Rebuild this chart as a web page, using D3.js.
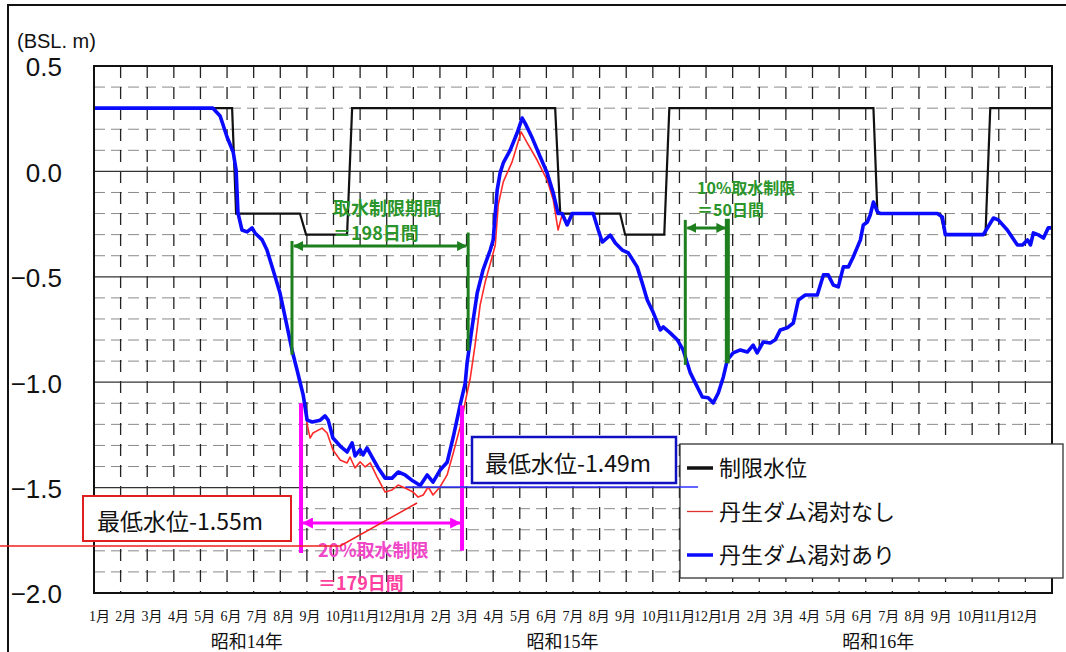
<!DOCTYPE html>
<html>
<head>
<meta charset="utf-8">
<title>丹生ダム 渇水対策 水位</title>
<style>
    body { margin: 0; background: #fff; }
    svg { display: block; font-family: "Noto Sans CJK JP", sans-serif; }
</style>
</head>
<body>
<svg width="1066" height="652"></svg>
<script src="https://d3js.org/d3.v7.min.js"></script>
<script>

    // month index: 0 = start of 1月 昭和14年, 36 = end of 12月 昭和16年
    var monthNames = ["1月","2月","3月","4月","5月","6月","7月","8月","9月","10月","11月","12月"];
    var yearLabels = ["昭和14年", "昭和15年", "昭和16年"];
    var yTicks = [0.5, 0.0, -0.5, -1.0, -1.5, -2.0];

    // 制限水位
    var limitLevel = [
        [0, 0.3], [5.19, 0.3], [5.34, -0.2], [7.74, -0.2], [7.97, -0.3], [9.51, -0.3], [9.7, 0.3],
        [17.33, 0.3], [17.52, -0.2], [19.77, -0.2], [19.96, -0.3], [21.43, -0.3], [21.62, 0.3],
        [29.29, 0.3], [29.44, -0.2], [31.8, -0.2], [31.99, -0.3], [33.5, -0.3], [33.68, 0.3], [36, 0.3]
    ];

    // 丹生ダム渇対あり
    var withDam = [
        [0, 0.3], [4.36, 0.3], [4.47, 0.3], [4.74, 0.263], [5.0, 0.163], [5.23, 0.092], [5.34, 0.007],
        [5.41, -0.197], [5.56, -0.278], [5.75, -0.287], [5.94, -0.268], [6.05, -0.292], [6.32, -0.325],
        [6.5, -0.373], [6.73, -0.468], [6.99, -0.577], [7.26, -0.738], [7.44, -0.847], [7.63, -0.942],
        [7.86, -1.06], [8.01, -1.18], [8.2, -1.189], [8.5, -1.18], [8.68, -1.16], [8.8, -1.18],
        [8.98, -1.265], [9.25, -1.303], [9.51, -1.331], [9.7, -1.288], [9.81, -1.35], [10.0, -1.32],
        [10.11, -1.345], [10.26, -1.312], [10.45, -1.355], [10.68, -1.407], [10.94, -1.455], [11.2, -1.455],
        [11.43, -1.426], [11.69, -1.44], [11.99, -1.469], [12.26, -1.49], [12.52, -1.44], [12.74, -1.474],
        [13.0, -1.418], [13.27, -1.38], [13.5, -1.26], [13.76, -1.108], [13.95, -1.004], [14.02, -0.909],
        [14.21, -0.738], [14.4, -0.577], [14.62, -0.467], [14.89, -0.373], [15.0, -0.325], [15.15, -0.089],
        [15.26, -0.008], [15.38, 0.04], [15.64, 0.101], [15.9, 0.182], [16.09, 0.253], [16.2, 0.229],
        [16.47, 0.158], [16.77, 0.068], [17.03, -0.008], [17.26, -0.103], [17.44, -0.2], [17.59, -0.2],
        [17.78, -0.254], [17.97, -0.2], [18.76, -0.2], [18.95, -0.278], [19.1, -0.335], [19.4, -0.302],
        [19.59, -0.34], [19.85, -0.373], [20.08, -0.387], [20.41, -0.453], [20.6, -0.529], [20.79, -0.61],
        [21.02, -0.671], [21.28, -0.752], [21.39, -0.738], [21.65, -0.766], [21.92, -0.799], [22.14, -0.847],
        [22.41, -0.956], [22.67, -1.022], [22.86, -1.07], [23.08, -1.074], [23.27, -1.098], [23.46, -1.051],
        [23.65, -0.975], [23.8, -0.894], [24.02, -0.861], [24.29, -0.847], [24.55, -0.857], [24.77, -0.824],
        [24.92, -0.861], [25.15, -0.809], [25.41, -0.814], [25.6, -0.799], [25.79, -0.752], [26.05, -0.742],
        [26.28, -0.719], [26.47, -0.61], [26.73, -0.586], [27.18, -0.586], [27.41, -0.491], [27.59, -0.491],
        [27.78, -0.539], [27.97, -0.548], [28.16, -0.453], [28.35, -0.453], [28.53, -0.406], [28.8, -0.325],
        [28.91, -0.254], [29.06, -0.24], [29.17, -0.207], [29.29, -0.145], [29.44, -0.192], [29.55, -0.2],
        [31.69, -0.2], [31.88, -0.216], [31.99, -0.3], [33.42, -0.3], [33.8, -0.221], [33.98, -0.23],
        [34.32, -0.278], [34.7, -0.349], [34.89, -0.349], [35.08, -0.325], [35.19, -0.349], [35.3, -0.292],
        [35.49, -0.301], [35.68, -0.316], [35.86, -0.268], [36.0, -0.268]
    ];

    // 丹生ダム渇対なし (only where it leaves the blue line)
    var withoutDam = [
        [7.86, -1.06], [8.01, -1.2], [8.12, -1.265], [8.23, -1.241], [8.57, -1.218], [8.76, -1.241],
        [8.98, -1.322], [9.25, -1.369], [9.51, -1.383], [9.62, -1.355], [9.81, -1.407], [10.0, -1.378],
        [10.19, -1.402], [10.38, -1.383], [10.64, -1.45], [10.94, -1.521], [11.2, -1.511], [11.43, -1.488],
        [11.69, -1.502], [11.99, -1.521], [12.18, -1.545], [12.37, -1.535], [12.56, -1.497], [12.74, -1.535],
        [13.0, -1.497], [13.27, -1.44], [13.5, -1.336], [13.76, -1.212], [13.95, -1.094], [14.14, -0.98],
        [14.32, -0.824], [14.51, -0.634], [14.7, -0.525], [14.96, -0.406], [15.08, -0.349], [15.19, -0.159],
        [15.38, -0.05], [15.71, 0.045], [16.05, 0.187], [16.28, 0.135], [16.65, 0.054], [17.03, -0.041],
        [17.26, -0.136], [17.44, -0.278], [17.59, -0.207], [17.78, -0.254]
    ];

    // restriction periods: [start, end, left top, right top, left bottom, right bottom, arrow level]
    var period198 = [7.44, 14.06, -0.33, -0.29, -0.87, -0.85, -0.354];
    var period50 = [22.22, 23.8, -0.23, -0.225, -0.918, -0.91, -0.268];
    var period179 = [7.78, 13.83, -1.10, -1.11, -1.81, -1.80, -1.668];

    var svg = d3.select("svg"),
        width = +svg.attr("width"),
        height = +svg.attr("height");

    var x = d3.scaleLinear().domain([0, 36]).range([94, 1052]),
        y = d3.scaleLinear().domain([-2, 0.5]).range([593, 66]),
        labelX = d3.scaleLinear().domain([0, 36]).range([89, 1036]);

    svg.append("rect").attr("width", width).attr("height", height).attr("fill", "#fff");

    // outer frame
    svg.append("rect")
        .attr("x", 8).attr("y", 5).attr("width", 1070).attr("height", 670)
        .attr("fill", "none").attr("stroke", "#111").attr("stroke-width", 2);

    // grid
    var grid = svg.append("g");
    grid.selectAll(".hdash")
        .data(d3.range(-19, 5).filter(function(k) { return k % 5 !== 0; }))
        .enter().append("line")
        .attr("x1", x(0)).attr("x2", x(36))
        .attr("y1", function(k) { return y(k / 10); })
        .attr("y2", function(k) { return y(k / 10); })
        .attr("stroke", "#8a8a8a").attr("stroke-width", 1)
        .attr("stroke-dasharray", "11,6");

    grid.selectAll(".vdash")
        .data(d3.range(1, 36))
        .enter().append("line")
        .attr("x1", function(d) { return x(d); })
        .attr("x2", function(d) { return x(d); })
        .attr("y1", y(0.5)).attr("y2", y(-2))
        .attr("stroke", "#222").attr("stroke-width", 1.3)
        .attr("stroke-dasharray", "12,9");

    grid.selectAll(".hsolid")
        .data(yTicks.slice(1, 5))
        .enter().append("line")
        .attr("x1", x(0)).attr("x2", x(36))
        .attr("y1", function(d) { return y(d); })
        .attr("y2", function(d) { return y(d); })
        .attr("stroke", "#333").attr("stroke-width", 1.3);

    grid.selectAll(".ztick")
        .data(d3.range(2, 36, 3))
        .enter().append("line")
        .attr("x1", function(d) { return x(d); })
        .attr("x2", function(d) { return x(d); })
        .attr("y1", y(0)).attr("y2", y(0) - 5)
        .attr("stroke", "#333").attr("stroke-width", 1.2);

    // series
    var line = d3.line()
        .x(function(d) { return x(d[0]); })
        .y(function(d) { return y(d[1]); });

    svg.append("path").datum(limitLevel)
        .attr("d", line).attr("fill", "none")
        .attr("stroke", "#111").attr("stroke-width", 2.2);

    svg.append("path").datum(withoutDam)
        .attr("d", line).attr("fill", "none")
        .attr("stroke", "#ff2a2a").attr("stroke-width", 1.6)
        .attr("stroke-linejoin", "round");

    svg.append("path").datum(withDam)
        .attr("d", line).attr("fill", "none")
        .attr("stroke", "#0a0aff").attr("stroke-width", 3.6)
        .attr("stroke-linejoin", "round");

    // plot border
    svg.append("rect")
        .attr("x", x(0)).attr("y", y(0.5))
        .attr("width", x(36) - x(0)).attr("height", y(-2) - y(0.5))
        .attr("fill", "none").attr("stroke", "#111").attr("stroke-width", 2);

    // axis labels
    svg.append("g").selectAll("text")
        .data(yTicks)
        .enter().append("text")
        .attr("x", 62)
        .attr("y", function(d) { return y(d) + 1; })
        .attr("dy", "0.36em")
        .attr("text-anchor", "end")
        .style("font", "26px 'Liberation Sans', sans-serif")
        .attr("fill", "#111")
        .text(function(d) { return d3.format(".1f")(d); });

    svg.append("text")
        .attr("x", 17).attr("y", 48)
        .style("font", "20px 'Liberation Sans', sans-serif")
        .attr("fill", "#111")
        .text("(BSL. m)");

    var monthLabels = [];
    yearLabels.forEach(function() { monthLabels = monthLabels.concat(monthNames); });

    svg.append("g").selectAll("text")
        .data(monthLabels)
        .enter().append("text")
        .attr("x", function(d, i) { return labelX(i); })
        .attr("y", 621)
        .style("font", "14px 'Liberation Serif', 'Noto Sans CJK JP', serif")
        .attr("fill", "#111")
        .text(function(d) { return d; });

    svg.append("g").selectAll("text")
        .data(yearLabels)
        .enter().append("text")
        .attr("x", function(d, i) { return labelX(6 + 12 * i); })
        .attr("y", 648)
        .attr("text-anchor", "middle")
        .style("font", "18px 'Liberation Serif', 'Noto Sans CJK JP', serif")
        .attr("fill", "#111")
        .text(function(d) { return d; });

    // arrow markers
    var defs = svg.append("defs");
    function marker(id, color, size) {
        defs.append("marker")
            .attr("id", id)
            .attr("viewBox", "0 0 10 10")
            .attr("refX", 9).attr("refY", 5)
            .attr("markerUnits", "userSpaceOnUse")
            .attr("markerWidth", size).attr("markerHeight", size)
            .attr("orient", "auto-start-reverse")
            .append("path")
            .attr("d", "M0,0 L10,5 L0,10 z")
            .attr("fill", color);
    }
    marker("arrowGreen", "#1d7f1d", 10);
    marker("arrowPink", "#ff00ff", 11);

    function period(p, color, marker, wl, wr) {
        var g = svg.append("g");
        g.append("line")
            .attr("x1", x(p[0])).attr("x2", x(p[0]))
            .attr("y1", y(p[2])).attr("y2", y(p[4]))
            .attr("stroke", color).attr("stroke-width", wl);
        g.append("line")
            .attr("x1", x(p[1])).attr("x2", x(p[1]))
            .attr("y1", y(p[3])).attr("y2", y(p[5]))
            .attr("stroke", color).attr("stroke-width", wr);
        g.append("line")
            .attr("x1", x(p[0]) + 2).attr("x2", x(p[1]) - 2)
            .attr("y1", y(p[6])).attr("y2", y(p[6]))
            .attr("stroke", color).attr("stroke-width", 3)
            .attr("marker-start", "url(#" + marker + ")")
            .attr("marker-end", "url(#" + marker + ")");
    }
    period(period198, "#1d7f1d", "arrowGreen", 3, 3);
    period(period50, "#1d7f1d", "arrowGreen", 3, 5);
    period(period179, "#ff00ff", "arrowPink", 4, 4);

    var green = "#2a952a";
    function label(tx, ty, txt, color, size) {
        svg.append("text")
            .attr("x", tx).attr("y", ty)
            .attr("fill", color)
            .style("font", "bold " + size + "px 'Noto Sans CJK JP', sans-serif")
            .text(txt);
    }
    label(333, 215, "取水制限期間", green, 18);
    label(333, 240, "＝198日間", green, 18);
    label(697, 194, "10%取水制限", green, 16);
    label(697, 216, "＝50日間", green, 16);
    label(318, 557, "20%取水制限", "#f046c8", 18);
    label(318, 590, "＝179日間", "#ff3fa0", 18);

    // minimum level call-outs
    svg.append("polyline")
        .attr("points", [[x(12.14), y(-1.573)], [x(9.25), y(-1.777)], [0, y(-1.777)]].join(" "))
        .attr("fill", "none").attr("stroke", "#f02020").attr("stroke-width", 1.5);

    svg.append("rect")
        .attr("x", 83).attr("y", 496).attr("width", 208).attr("height", 45)
        .attr("fill", "#fff").attr("stroke", "#e02020").attr("stroke-width", 2);
    svg.append("text")
        .attr("x", 97).attr("y", 530)
        .style("font", "23px 'Noto Sans CJK JP', sans-serif")
        .attr("fill", "#111")
        .text("最低水位-1.55m");

    svg.append("rect")
        .attr("x", 472).attr("y", 437).attr("width", 204).attr("height", 46)
        .attr("fill", "#fff").attr("stroke", "#1010c0").attr("stroke-width", 2.5);
    svg.append("text")
        .attr("x", 485).attr("y", 472)
        .style("font", "23px 'Noto Sans CJK JP', sans-serif")
        .attr("fill", "#111")
        .text("最低水位-1.49m");

    // legend
    var legendItems = [
        {name: "制限水位", color: "#111", w: 3.5},
        {name: "丹生ダム渇対なし", color: "#e03030", w: 1.3},
        {name: "丹生ダム渇対あり", color: "#0a0aff", w: 3.5}
    ];
    var legend = svg.append("g");
    legend.append("rect")
        .attr("x", 680).attr("y", 444).attr("width", 383).attr("height", 134)
        .attr("fill", "#fff").attr("stroke", "#333").attr("stroke-width", 1.3);
    var item = legend.selectAll("g")
        .data(legendItems)
        .enter().append("g")
        .attr("transform", function(d, i) { return "translate(0," + (468 + i * 43.5) + ")"; });
    item.append("line")
        .attr("x1", 687).attr("x2", 713)
        .attr("stroke", function(d) { return d.color; })
        .attr("stroke-width", function(d) { return d.w; });
    item.append("text")
        .attr("x", 719).attr("y", 8)
        .style("font", "22px 'Noto Sans CJK JP', sans-serif")
        .attr("fill", "#111")
        .text(function(d) { return d.name; });

    svg.append("line")
        .attr("x1", x(11.7)).attr("x2", x(22.7))
        .attr("y1", y(-1.497)).attr("y2", y(-1.497))
        .attr("stroke", "#3030ff").attr("stroke-width", 1.5);

</script>
</body>
</html>
